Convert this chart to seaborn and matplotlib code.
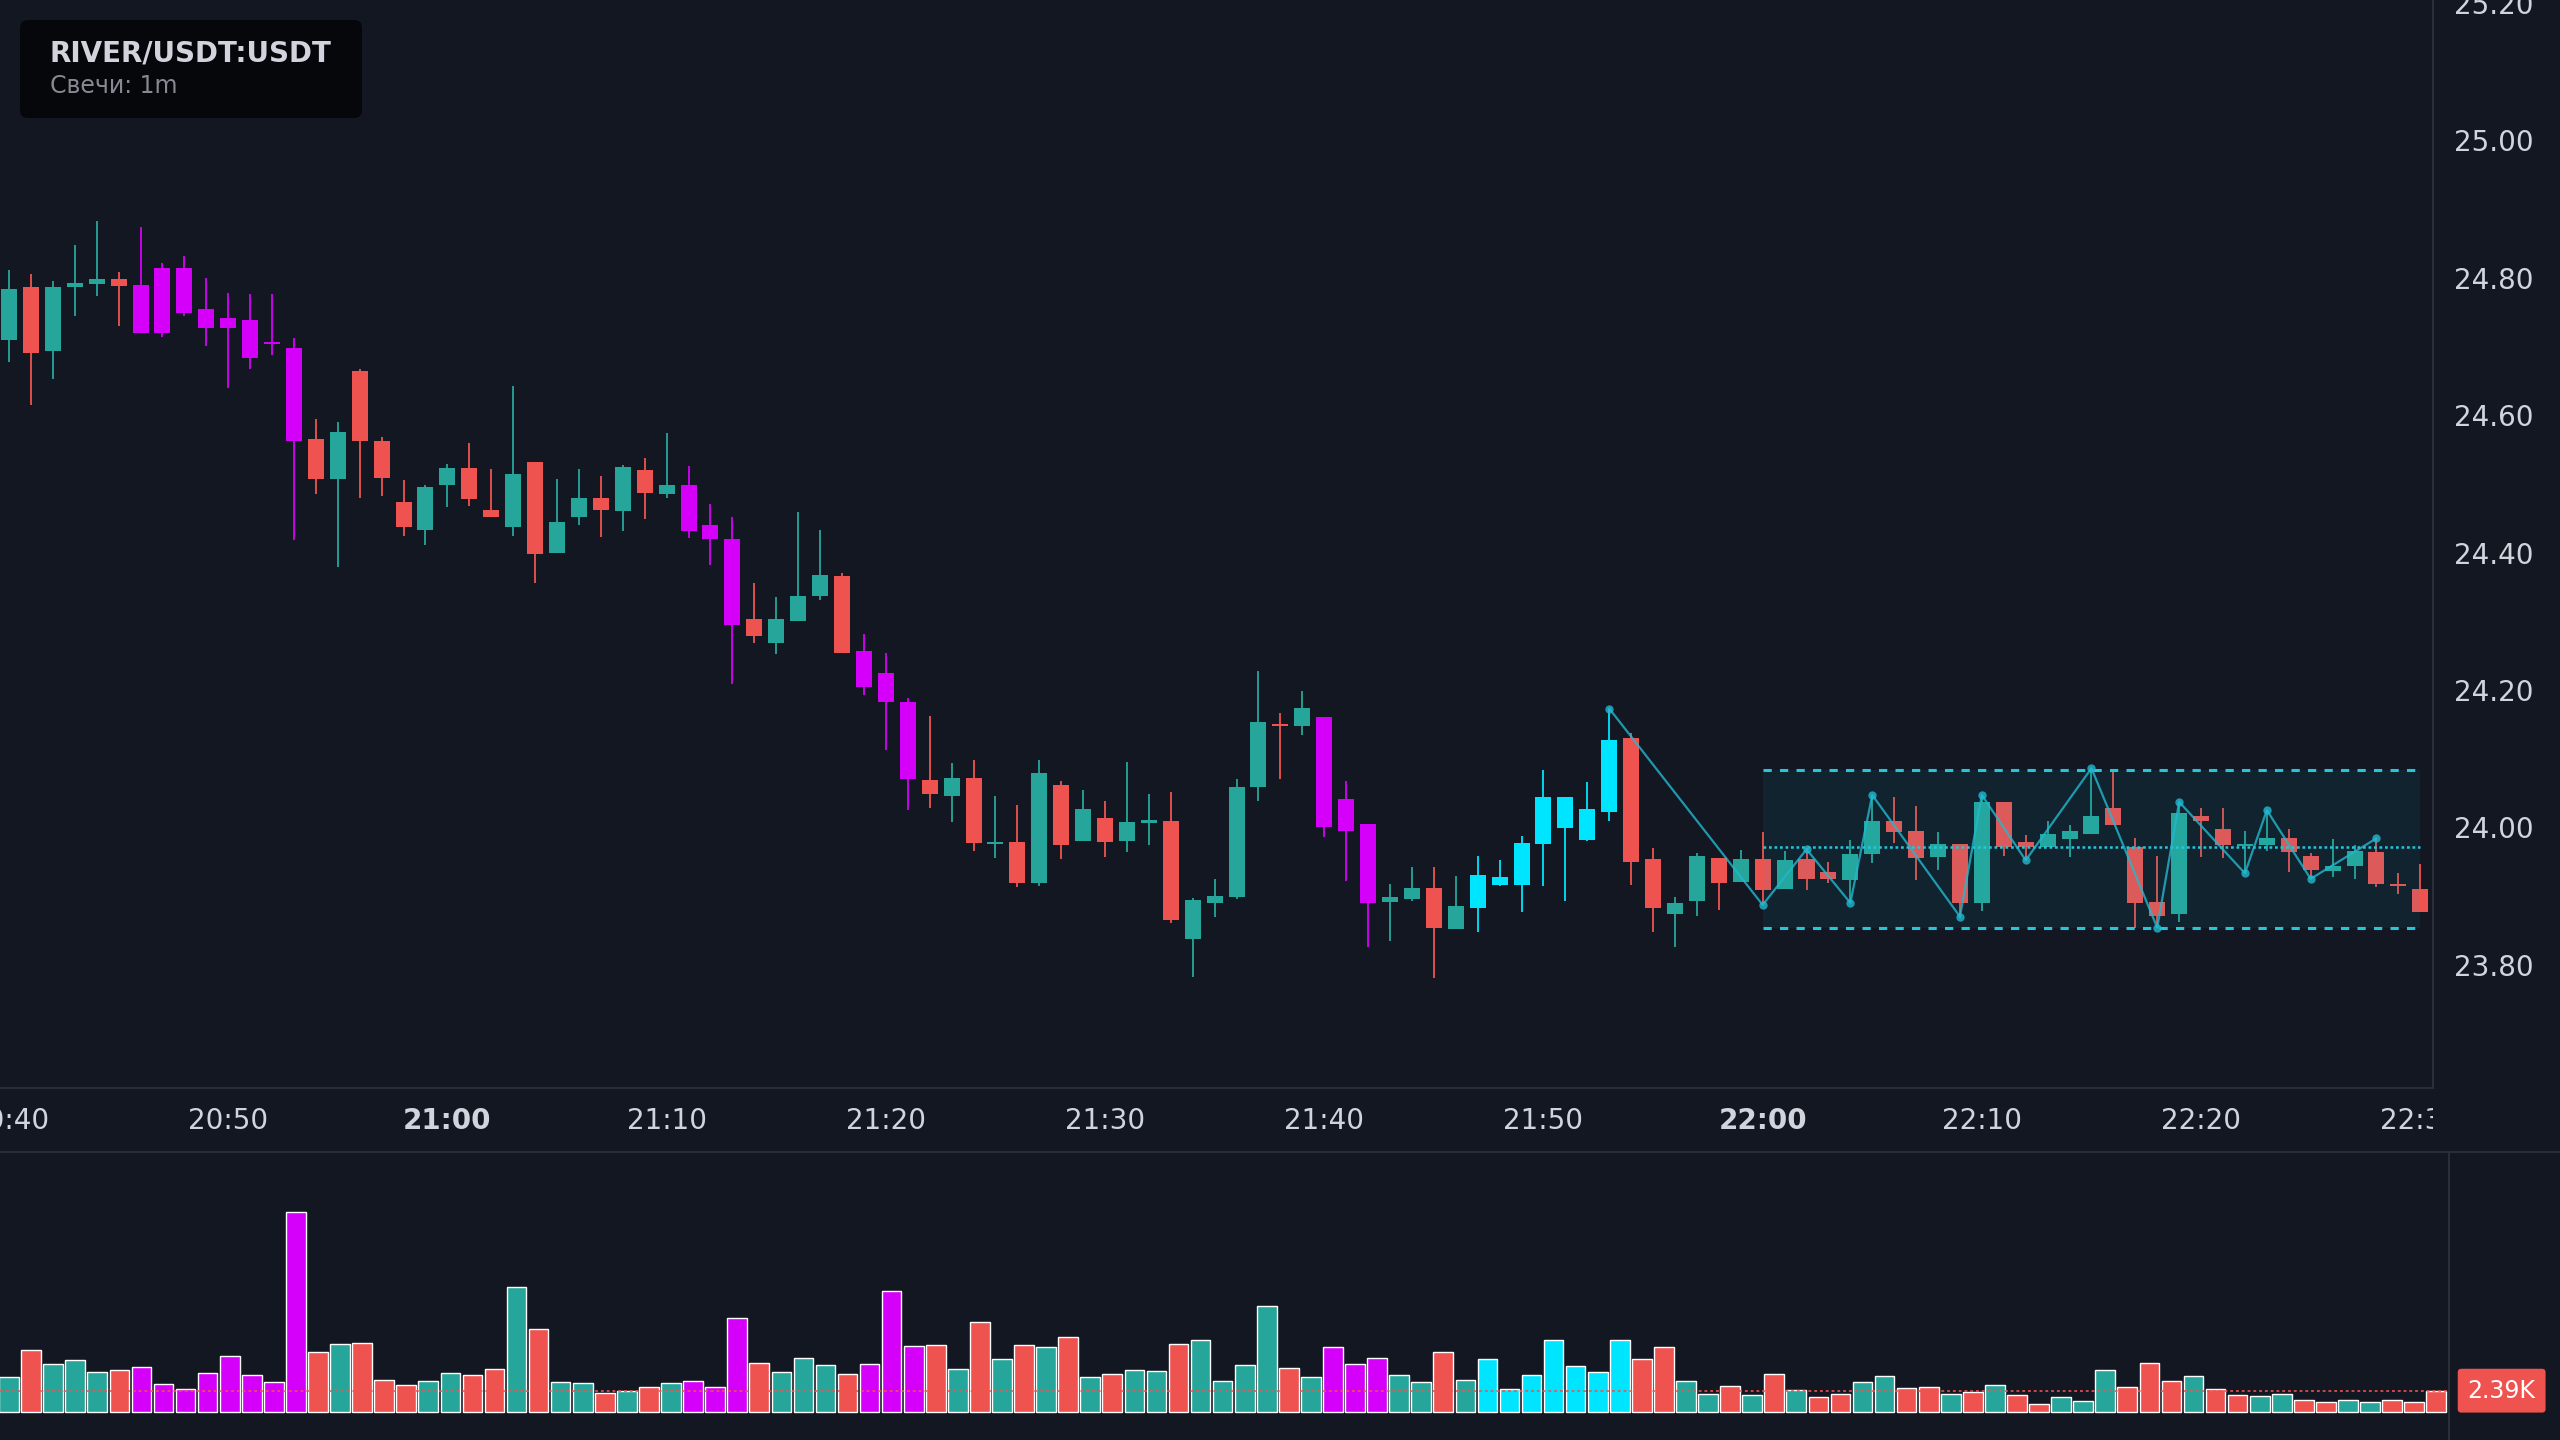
import numpy as np
import pandas as pd
import seaborn as sns
import matplotlib.pyplot as plt
from matplotlib.patches import FancyBboxPatch
from matplotlib.transforms import Bbox, TransformedBbox

BG = '#131722'
LINE = '#2a2e39'
TXT = '#d1d4dc'

# 1m candles from 20:40 to 22:30 (index 0 = 20:40)
opens = [24.709, 24.786, 24.693, 24.786, 24.791, 24.799, 24.790, 24.720, 24.815, 24.754,
         24.727, 24.738, 24.704, 24.698, 24.565, 24.507, 24.665, 24.563, 24.473, 24.433,
         24.498, 24.523, 24.462, 24.437, 24.532, 24.400, 24.452, 24.480, 24.461, 24.520,
         24.485, 24.498, 24.440, 24.420, 24.304, 24.268, 24.301, 24.337, 24.366, 24.257,
         24.224, 24.182, 24.069, 24.045, 24.072, 23.976, 23.978, 23.919, 24.061, 23.980,
         24.013, 23.980, 24.006, 24.009, 23.838, 23.890, 23.899, 24.058, 24.151, 24.147,
         24.161, 24.041, 24.005, 23.891, 23.896, 23.912, 23.852, 23.883, 23.928, 23.916,
         23.976, 24.044, 23.981, 24.022, 24.130, 23.954, 23.874, 23.893, 23.955, 23.920,
         23.954, 23.910, 23.954, 23.935, 23.923, 23.961, 24.009, 23.994, 23.957, 23.976,
         23.890, 24.037, 23.978, 23.971, 23.983, 23.990, 24.028, 23.971, 23.891, 23.874,
         24.016, 23.997, 23.973, 23.974, 23.984, 23.958, 23.936, 23.944, 23.964, 23.916,
         23.910]
highs = [24.812, 24.806, 24.796, 24.848, 24.883, 24.809, 24.874, 24.822, 24.832, 24.800,
         24.778, 24.777, 24.777, 24.713, 24.594, 24.590, 24.668, 24.568, 24.505, 24.498,
         24.529, 24.559, 24.521, 24.642, 24.532, 24.507, 24.522, 24.511, 24.527, 24.538,
         24.574, 24.526, 24.471, 24.452, 24.355, 24.336, 24.459, 24.433, 24.371, 24.281,
         24.254, 24.188, 24.162, 24.093, 24.098, 24.045, 24.032, 24.098, 24.067, 24.055,
         24.039, 24.095, 24.048, 24.051, 23.897, 23.925, 24.071, 24.228, 24.166, 24.198,
         24.161, 24.068, 24.005, 23.917, 23.942, 23.942, 23.929, 23.958, 23.952, 23.987,
         24.084, 24.044, 24.066, 24.173, 24.138, 23.970, 23.899, 23.962, 23.955, 23.967,
         23.993, 23.965, 23.970, 23.949, 23.981, 24.047, 24.044, 24.031, 23.993, 23.976,
         24.047, 24.037, 23.989, 24.009, 24.003, 24.086, 24.082, 23.984, 23.958, 24.037,
         24.028, 24.028, 23.994, 24.025, 23.997, 23.963, 23.983, 23.974, 23.984, 23.933,
         23.946]
lows = [24.678, 24.615, 24.652, 24.745, 24.773, 24.730, 24.719, 24.714, 24.745, 24.701,
        24.639, 24.668, 24.687, 24.418, 24.486, 24.379, 24.479, 24.482, 24.424, 24.411,
        24.466, 24.468, 24.452, 24.424, 24.356, 24.400, 24.440, 24.423, 24.432, 24.449,
        24.479, 24.421, 24.382, 24.209, 24.268, 24.252, 24.301, 24.331, 24.254, 24.192,
        24.112, 24.025, 24.028, 24.008, 23.965, 23.955, 23.913, 23.915, 23.954, 23.980,
        23.957, 23.964, 23.974, 23.861, 23.782, 23.870, 23.896, 24.038, 24.071, 24.134,
        23.986, 23.922, 23.826, 23.835, 23.893, 23.780, 23.852, 23.848, 23.915, 23.877,
        23.915, 23.893, 23.980, 24.009, 23.916, 23.848, 23.826, 23.871, 23.880, 23.920,
        23.888, 23.910, 23.909, 23.919, 23.890, 23.948, 23.977, 23.923, 23.938, 23.868,
        23.878, 23.958, 23.952, 23.971, 23.957, 23.990, 24.003, 23.854, 23.854, 23.862,
        23.957, 23.955, 23.933, 23.965, 23.935, 23.925, 23.928, 23.925, 23.913, 23.903,
        23.877]
closes = [24.784, 24.691, 24.787, 24.793, 24.799, 24.788, 24.719, 24.815, 24.749, 24.727,
          24.741, 24.684, 24.706, 24.562, 24.507, 24.576, 24.562, 24.508, 24.437, 24.495,
          24.523, 24.478, 24.452, 24.514, 24.398, 24.445, 24.480, 24.462, 24.525, 24.487,
          24.498, 24.432, 24.420, 24.294, 24.278, 24.304, 24.337, 24.368, 24.254, 24.205,
          24.183, 24.070, 24.048, 24.072, 23.977, 23.979, 23.919, 24.079, 23.974, 24.026,
          23.978, 24.008, 24.010, 23.865, 23.894, 23.900, 24.058, 24.154, 24.147, 24.174,
          24.000, 23.994, 23.890, 23.899, 23.912, 23.854, 23.886, 23.931, 23.916, 23.977,
          24.044, 23.999, 24.026, 24.127, 23.949, 23.883, 23.890, 23.958, 23.919, 23.954,
          23.909, 23.952, 23.925, 23.925, 23.961, 24.009, 23.993, 23.955, 23.976, 23.890,
          24.037, 23.971, 23.971, 23.990, 23.995, 24.016, 24.003, 23.890, 23.871, 24.021,
          24.009, 23.974, 23.976, 23.984, 23.964, 23.938, 23.944, 23.965, 23.918, 23.915,
          23.877]
volume_k = [3.94, 7.01, 5.42, 5.87, 4.51, 4.73, 5.08, 3.14, 2.58, 4.39,
            6.33, 4.17, 3.37, 22.7, 6.78, 7.69, 7.80, 3.60, 3.03, 3.48,
            4.39, 4.17, 4.85, 14.17, 9.39, 3.37, 3.26, 2.12, 2.35, 2.80,
            3.26, 3.48, 2.80, 10.64, 5.53, 4.51, 6.10, 5.30, 4.28, 5.42,
            13.71, 7.46, 7.58, 4.85, 10.19, 5.98, 7.58, 7.35, 8.48, 3.94,
            4.28, 4.73, 4.62, 7.69, 8.14, 3.48, 5.30, 12.0, 4.96, 3.94,
            7.35, 5.42, 6.10, 4.17, 3.37, 6.78, 3.60, 5.98, 2.58, 4.17,
            8.14, 5.19, 4.51, 8.14, 5.98, 7.35, 3.48, 2.01, 2.92, 1.89,
            4.28, 2.46, 1.67, 2.01, 3.37, 4.05, 2.69, 2.80, 2.01, 2.23,
            3.03, 1.89, 0.87, 1.67, 1.21, 4.73, 2.80, 5.53, 3.48, 4.05,
            2.58, 1.89, 1.78, 2.01, 1.33, 1.10, 1.33, 1.10, 1.33, 1.10,
            2.39]

magenta_idx = [6, 7, 8, 9, 10, 11, 12, 13, 31, 32, 33, 39, 40, 41, 60, 61, 62]
cyan_idx = [67, 68, 69, 70, 71, 72, 73]

# zigzag pivots
zz_idx = [73, 80, 82, 84, 85, 89, 90, 92, 95, 98, 99, 102, 103, 105, 108]
zz_price = [24.173, 23.887, 23.968, 23.890, 24.047, 23.870, 24.047, 23.952,
            24.086, 23.854, 24.037, 23.933, 24.025, 23.925, 23.984]

# range box
range_start, range_end = 80, 110
range_top, range_mid, range_bot = 24.083, 23.972, 23.854

tick_idx = list(range(0, 111, 10))
tick_labels = ['20:40', '20:50', '21:00', '21:10', '21:20', '21:30',
               '21:40', '21:50', '22:00', '22:10', '22:20', '22:30']
price_ticks = [23.8, 24.0, 24.2, 24.4, 24.6, 24.8, 25.0, 25.2]

sns.set_theme(style='dark', rc={'axes.facecolor': BG, 'figure.facecolor': BG,
                                'axes.edgecolor': LINE, 'xtick.color': TXT,
                                'ytick.color': TXT, 'axes.grid': False})
plt.rcParams['font.family'] = ['DejaVu Sans']

df = pd.DataFrame({'i': np.arange(len(opens)), 'open': opens, 'high': highs,
                   'low': lows, 'close': closes, 'vol': np.array(volume_k) * 1000})
df['kind'] = np.where(df['close'] >= df['open'], 'up', 'down')
df.loc[magenta_idx, 'kind'] = 'mag'
df.loc[cyan_idx, 'kind'] = 'cyan'
pal = {'up': '#26a69a', 'down': '#ef5350', 'mag': '#d500f9', 'cyan': '#00e5ff'}
colors = df['kind'].map(pal)

fig = plt.figure(figsize=(25.6, 14.4), dpi=100)
ax = fig.add_axes([0, 1 - 1088 / 1440, 2433 / 2560, 1088 / 1440])
axv = fig.add_axes([0, 0, 2449 / 2560, 288 / 1440])

# candles
ax.vlines(df['i'], df['low'], df['high'], colors=colors, lw=1.3, zorder=2)
body_lo = np.minimum(df['open'], df['close'])
body_h = np.maximum((df['close'] - df['open']).abs(), 0.003)
ax.bar(df['i'], body_h, bottom=body_lo, width=0.73, color=colors, linewidth=0, zorder=3)

# range box
ax.fill_between([range_start, range_end], range_bot, range_top, color='#00bcd4',
                alpha=0.08, lw=0, zorder=4)
ax.hlines([range_top, range_bot], range_start, range_end, colors='#26c6da', lw=2.2,
          linestyles=[(0, (2.7, 2.7))], zorder=5)
ax.hlines(range_mid, range_start, range_end, colors='#26c6da', lw=1.8,
          linestyles=[(0, (1.1, 1.1))], zorder=5)

# zigzag
sns.lineplot(x=zz_idx, y=zz_price, ax=ax, color='#22b8cf', lw=1.6, alpha=0.8,
             marker='o', markersize=6, markeredgewidth=0, zorder=6)

ax.set_xlim(-0.41, 110.58)
ax.set_ylim(23.6205, 25.2045)
for s in ['top', 'left']:
    ax.spines[s].set_visible(False)
for s in ['bottom', 'right']:
    ax.spines[s].set_color(LINE)
    ax.spines[s].set_linewidth(1.5)

ax.yaxis.tick_right()
ax.set_yticks(price_ticks, [f'{p:.2f}' for p in price_ticks])
ax.set_xticks(tick_idx, tick_labels)
ax.tick_params(axis='both', length=0, labelsize=20, colors=TXT)
ax.tick_params(axis='x', pad=14)
ax.tick_params(axis='y', pad=15)
clip = TransformedBbox(Bbox([[0, -0.1], [1, 1]]), ax.transAxes)
for lbl in ax.get_xticklabels():
    lbl.set_clip_box(clip)
    lbl.set_clip_on(True)
    if lbl.get_text().endswith(':00'):
        lbl.set_fontweight('bold')
ax.set_xlabel('')
ax.set_ylabel('')

# volume
sns.barplot(data=df, x='i', y='vol', hue='kind', palette=pal, dodge=False,
            native_scale=True, width=0.89, saturation=1, errorbar=None,
            legend=False, ax=axv, zorder=2)
last_vol = df['vol'].iloc[-1]
axv.axhline(last_vol, color='#ef5350', lw=1.3, ls=(0, (1.6, 1.6)), alpha=0.9, zorder=3)
axv.text(1.0215, last_vol, f'{last_vol / 1000:.2f}K', transform=axv.get_yaxis_transform(),
         ha='center', va='center', color='white', fontsize=17, clip_on=False,
         bbox=dict(boxstyle='round,pad=0.42,rounding_size=0.15', fc='#ef5350', ec='none'))
axv.set_xlim(-0.41, 110.58)
axv.set_ylim(-3.22e3, 29.54e3)
axv.set_xticks([])
axv.set_yticks([])
axv.set_xlabel('')
axv.set_ylabel('')
for s in ['bottom', 'left']:
    axv.spines[s].set_visible(False)
for s in ['top', 'right']:
    axv.spines[s].set_color(LINE)
    axv.spines[s].set_linewidth(1.5)
axv.axhline(axv.get_ylim()[1], xmin=1, xmax=2560 / 2449, color=LINE, lw=1.5, clip_on=False)

# header box
fig.patches.append(FancyBboxPatch((0.2, 14.4 - 1.18), 3.42, 0.98,
                                  boxstyle='round,pad=0,rounding_size=0.08',
                                  transform=fig.dpi_scale_trans, fc='#06070a', ec='none'))
fig.text(50 / 2560, 1 - 54 / 1440, 'RIVER/USDT:USDT', fontsize=20, fontweight='bold',
         color=TXT, ha='left', va='center')
fig.text(50 / 2560, 1 - 86 / 1440, 'Свечи: 1m', fontsize=17, color='#868993',
         ha='left', va='center')

fig.savefig('out.png', dpi=100, facecolor=BG)
